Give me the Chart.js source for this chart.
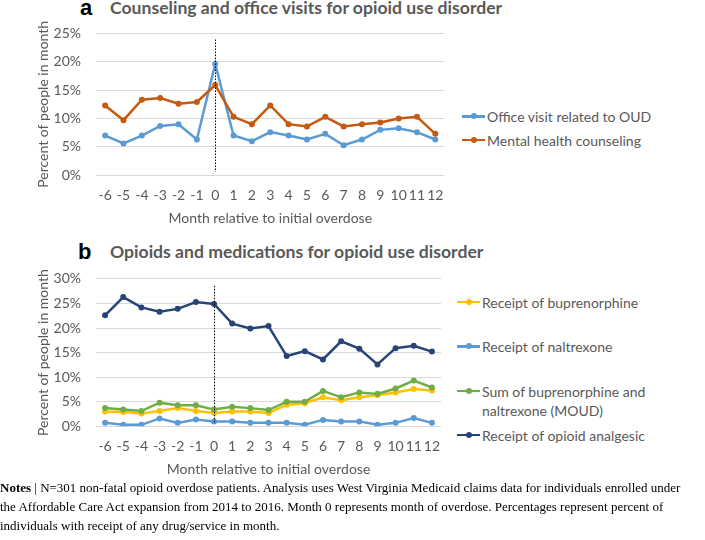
<!DOCTYPE html>
<html>
<head>
<meta charset="utf-8">
<script src="https://cdn.jsdelivr.net/npm/chart.js@4.4.0/dist/chart.umd.min.js"></script>
<style>
  body { margin: 0; width: 705px; height: 540px; background: #fff; position: relative; overflow: hidden; font-family: Lato, sans-serif; }
  canvas { position: absolute; }
  .letter { position: absolute; font-family: "Liberation Sans", Arial, sans-serif; font-weight: bold; font-size: 22px; color: #000; line-height: 20px; }
  .ptitle { position: absolute; font-family: Lato, sans-serif; font-weight: bold; font-size: 17.6px; color: #595959; line-height: 20px; white-space: nowrap; }
  .leg { position: absolute; font-size: 14px; color: #595959; line-height: 19px; white-space: nowrap; }
  .leg .mk { position: absolute; left: -25px; top: 8px; width: 23px; height: 2.5px; }
  .leg .mk i { position: absolute; left: 8.5px; top: -1.75px; width: 6px; height: 6px; border-radius: 50%; }
  .notes { position: absolute; left: 0; top: 478px; width: 705px; font-family: "Liberation Serif", "Times New Roman", serif; font-size: 13px; line-height: 19px; color: #000; white-space: nowrap; }
</style>
</head>
<body>

<div class="letter" style="left:80px; top:-2px;">a</div>
<div class="ptitle" style="left:110px; top:-2px;">Counseling and office visits for opioid use disorder</div>
<canvas id="chartA" width="455" height="232" style="left:0; top:0;"></canvas>
<div id="legendA"></div>

<div class="letter" style="left:78px; top:242px;">b</div>
<div class="ptitle" style="left:110px; top:242px;">Opioids and medications for opioid use disorder</div>
<canvas id="chartB" width="455" height="232" style="left:0; top:251.4px;"></canvas>
<div id="legendB"></div>

<div class="notes">
  <b>Notes</b> | N=301 non-fatal opioid overdose patients. Analysis uses West Virginia Medicaid claims data for individuals enrolled under<br>
  the Affordable Care Act expansion from 2014 to 2016. Month 0 represents month of overdose. Percentages represent percent of<br>
  individuals with receipt of any drug/service in month.
</div>

<script>
// ---------------------- DATA -------------------------
const months = ['-6','-5','-4','-3','-2','-1','0','1','2','3','4','5','6','7','8','9','10','11','12'];

// panel a (percent)
const officeVisit   = [7.0, 5.6, 7.0, 8.7, 9.0, 6.3, 19.6, 7.0, 6.0, 7.6, 7.0, 6.3, 7.3, 5.3, 6.3, 8.0, 8.3, 7.6, 6.3];
const mentalHealth  = [12.3, 9.7, 13.3, 13.6, 12.6, 12.9, 15.9, 10.3, 9.0, 12.3, 9.0, 8.6, 10.3, 8.6, 9.0, 9.3, 10.0, 10.3, 7.3];

// panel b (percent)
const buprenorphine   = [3.0, 2.9, 2.6, 3.1, 3.7, 3.1, 2.7, 3.0, 3.0, 2.7, 4.4, 4.7, 5.9, 5.3, 5.9, 6.3, 6.9, 7.6, 7.3];
const naltrexone      = [0.7, 0.3, 0.3, 1.6, 0.7, 1.4, 1.0, 1.0, 0.7, 0.7, 0.7, 0.3, 1.3, 1.0, 1.0, 0.3, 0.7, 1.7, 0.7];
const moudSum         = [3.7, 3.4, 3.1, 4.8, 4.3, 4.3, 3.4, 4.0, 3.7, 3.3, 5.0, 5.0, 7.2, 5.9, 6.9, 6.6, 7.7, 9.3, 7.9];
const opioidAnalgesic = [22.6, 26.3, 24.2, 23.3, 23.9, 25.3, 24.9, 20.9, 19.9, 20.4, 14.3, 15.3, 13.6, 17.3, 15.8, 12.6, 15.9, 16.4, 15.2];

const ticksA = [0, 5, 10, 15, 20, 25];
const ticksB = [0, 5, 10, 15, 20, 25, 30];

const TEXT = '#595959';
const GRID = '#d9d9d9';

// ---------------------- HELPERS -------------------------
// dotted line at month 0
const overdoseLine = {
      id: 'overdoseLine',
      afterDatasetsDraw(chart, args, opts) {
            const x = chart.scales.x.getPixelForValue(months.indexOf('0'));
            const y1 = chart.scales.y.getPixelForValue(opts.from);
            const y2 = chart.scales.y.getPixelForValue(opts.to);
            const ctx = chart.ctx;
            ctx.save();
            ctx.strokeStyle = '#000';
            ctx.lineWidth = 1;
            ctx.setLineDash([1.5, 1.5]);
            ctx.beginPath();
            ctx.moveTo(Math.round(x) + 0.5, y1);
            ctx.lineTo(Math.round(x) + 0.5, y2);
            ctx.stroke();
            ctx.restore();
      }
};

function series(label, data, color) {
      return {
            label: label,
            data: data,
            borderColor: color,
            backgroundColor: color,
            borderWidth: 2.5,
            pointRadius: 3,
            pointHoverRadius: 3,
            pointBorderWidth: 0,
            tension: 0,
            fill: false
      };
}

function drawPanel(id, datasets, yTicks, box, marker) {
      const ctx = document.getElementById(id).getContext('2d');
      // draw later series on top, like the original
      datasets.forEach((d, i) => d.order = datasets.length - i);
      return new Chart(ctx, {
            type: 'line',
            data: { labels: months, datasets: datasets },
            plugins: [overdoseLine],
            options: {
                  responsive: false,
                  animation: false,
                  events: [],
                  layout: { padding: { top: box.top, right: box.right, left: 0, bottom: 0 } },
                  scales: {
                        x: {
                              offset: true,
                              grid: { display: false, drawTicks: false },
                              border: { display: false },
                              ticks: { color: TEXT, font: { family: 'Lato', size: 14 }, padding: 11.3, autoSkip: false, maxRotation: 0 },
                              title: { display: true, text: 'Month relative to initial overdose', color: TEXT, font: { family: 'Lato', size: 14 }, padding: { top: 0, bottom: 5.3 } },
                              afterFit: s => { s.height = 232 - box.bottom; }
                        },
                        y: {
                              min: 0,
                              max: yTicks[yTicks.length - 1],
                              afterBuildTicks: s => { s.ticks = yTicks.map(v => ({ value: v })); },
                              grid: { color: GRID, lineWidth: 1, drawTicks: false },
                              border: { display: false },
                              ticks: { color: TEXT, font: { family: 'Lato', size: 14 }, padding: 15, callback: v => v + '%' },
                              title: { display: true, text: 'Percent of people in month', color: TEXT, font: { family: 'Lato', size: 14 }, padding: { top: 34.6, bottom: 0 } },
                              afterFit: s => { s.width = 96; }
                        }
                  },
                  plugins: {
                        legend: { display: false },
                        tooltip: { enabled: false },
                        overdoseLine: marker
                  }
            }
      });
}

function buildLegend(id, datasets, left, ys) {
      const holder = document.getElementById(id);
      datasets.forEach((d, i) => {
            const item = document.createElement('div');
            item.className = 'leg';
            item.style.left = left + 'px';
            item.style.top = (ys[i] - 9.5) + 'px';
            item.innerHTML = `<span class="mk" style="background:${d.borderColor}"><i style="background:${d.borderColor}"></i></span>` +
                  d.label.join('<br>');
            holder.appendChild(item);
      });
}

// ---------------------- PANELS -------------------------
const setA = [
      series(['Office visit related to OUD'], officeVisit, '#5B9BD5'),
      series(['Mental health counseling'], mentalHealth, '#C55A11')
];
drawPanel('chartA', setA, ticksA, { top: 33.3, right: 10, bottom: 175.3 }, { from: 23.9, to: 0.6 });
buildLegend('legendA', setA, 487, [116.5, 140]);

const setB = [
      series(['Receipt of buprenorphine'], buprenorphine, '#FFC000'),
      series(['Receipt of naltrexone'], naltrexone, '#5B9BD5'),
      series(['Sum of buprenorphine and', 'naltrexone (MOUD)'], moudSum, '#70AD47'),
      series(['Receipt of opioid analgesic'], opioidAnalgesic, '#264478')
];
drawPanel('chartB', setB, ticksB, { top: 27.9, right: 14, bottom: 175.3 }, { from: 28.6, to: 0.5 });
buildLegend('legendB', setB, 482, [302.3, 346.7, 391, 435]);
</script>
</body>
</html>
